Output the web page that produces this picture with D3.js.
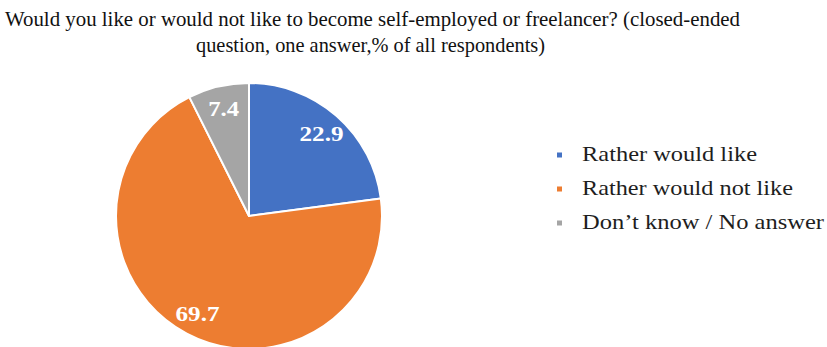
<!DOCTYPE html>
<html>
<head>
<meta charset="utf-8">
<script src="https://cdn.jsdelivr.net/npm/d3@7"></script>
<style>
  html, body { margin: 0; padding: 0; background: #fff; }
  svg { display: block; }
</style>
</head>
<body>
<svg id="chart" width="827" height="347"></svg>
<script>
const titleLines = [
  "Would you like or would not like to become self-employed or freelancer? (closed-ended",
  "question, one answer,% of all respondents)"
];
const categories = ["Rather would like", "Rather would not like", "Don\u2019t know / No answer"];
const values = [22.9, 69.7, 7.4];
const colors = ["#4472C4", "#ED7D31", "#A5A5A5"];

const svg = d3.select("#chart");
const W = 827, H = 347;
const cx = 249, cy = 216, R = 133, labelR = 110;

// Title
const titleSpec = [
  { x: 372.5, y: 26, len: 735 },
  { x: 370.5, y: 52, len: 349 }
];
svg.selectAll("text.title").data(titleLines).join("text")
  .attr("class", "title")
  .attr("x", (d, i) => titleSpec[i].x)
  .attr("y", (d, i) => titleSpec[i].y)
  .attr("text-anchor", "middle")
  .attr("textLength", (d, i) => titleSpec[i].len)
  .attr("lengthAdjust", "spacingAndGlyphs")
  .style("font-family", "'Liberation Serif', 'Times New Roman', serif")
  .style("font-size", "22px")
  .style("fill", "#111")
  .text(d => d);

// Pie
const data = categories.map((c, i) => ({ cat: c, value: values[i], color: colors[i] }));
const pie = d3.pie().value(d => d.value).sort(null);
const arc = d3.arc().innerRadius(0).outerRadius(R);
const labelArc = d3.arc().innerRadius(labelR).outerRadius(labelR);
const arcs = pie(data);

const g = svg.append("g").attr("transform", `translate(${cx},${cy})`);
g.selectAll("path").data(arcs).join("path")
  .attr("d", arc)
  .attr("fill", d => d.data.color)
  .attr("stroke", "#fff")
  .attr("stroke-width", 2)
  .attr("stroke-linejoin", "round");

g.selectAll("text.val").data(arcs).join("text")
  .attr("class", "val")
  .attr("x", d => labelArc.centroid(d)[0])
  .attr("y", d => labelArc.centroid(d)[1] + 7.5)
  .attr("text-anchor", "middle")
  .attr("textLength", d => (d.data.value.toFixed(1).length === 4 ? 44 : 31))
  .attr("lengthAdjust", "spacingAndGlyphs")
  .style("font-family", "'Liberation Serif', 'Times New Roman', serif")
  .style("font-weight", "bold")
  .style("font-size", "22px")
  .style("fill", "#fff")
  .text(d => d.data.value.toFixed(1));

// Legend
const legendX = 557, legendTextX = 582;
const legendY = [161, 195, 229];
const legendLen = [175, 211, 242];
const lg = svg.append("g");
const items = lg.selectAll("g").data(data).join("g");
items.append("rect")
  .attr("x", legendX)
  .attr("y", (d, i) => legendY[i] - 8.5)
  .attr("width", 5)
  .attr("height", 5)
  .attr("fill", d => d.color);
items.append("text")
  .attr("x", legendTextX)
  .attr("y", (d, i) => legendY[i])
  .attr("textLength", (d, i) => legendLen[i])
  .attr("lengthAdjust", "spacingAndGlyphs")
  .style("font-family", "'Liberation Serif', 'Times New Roman', serif")
  .style("font-size", "22px")
  .style("fill", "#1e1e1e")
  .text(d => d.cat);
</script>
</body>
</html>
